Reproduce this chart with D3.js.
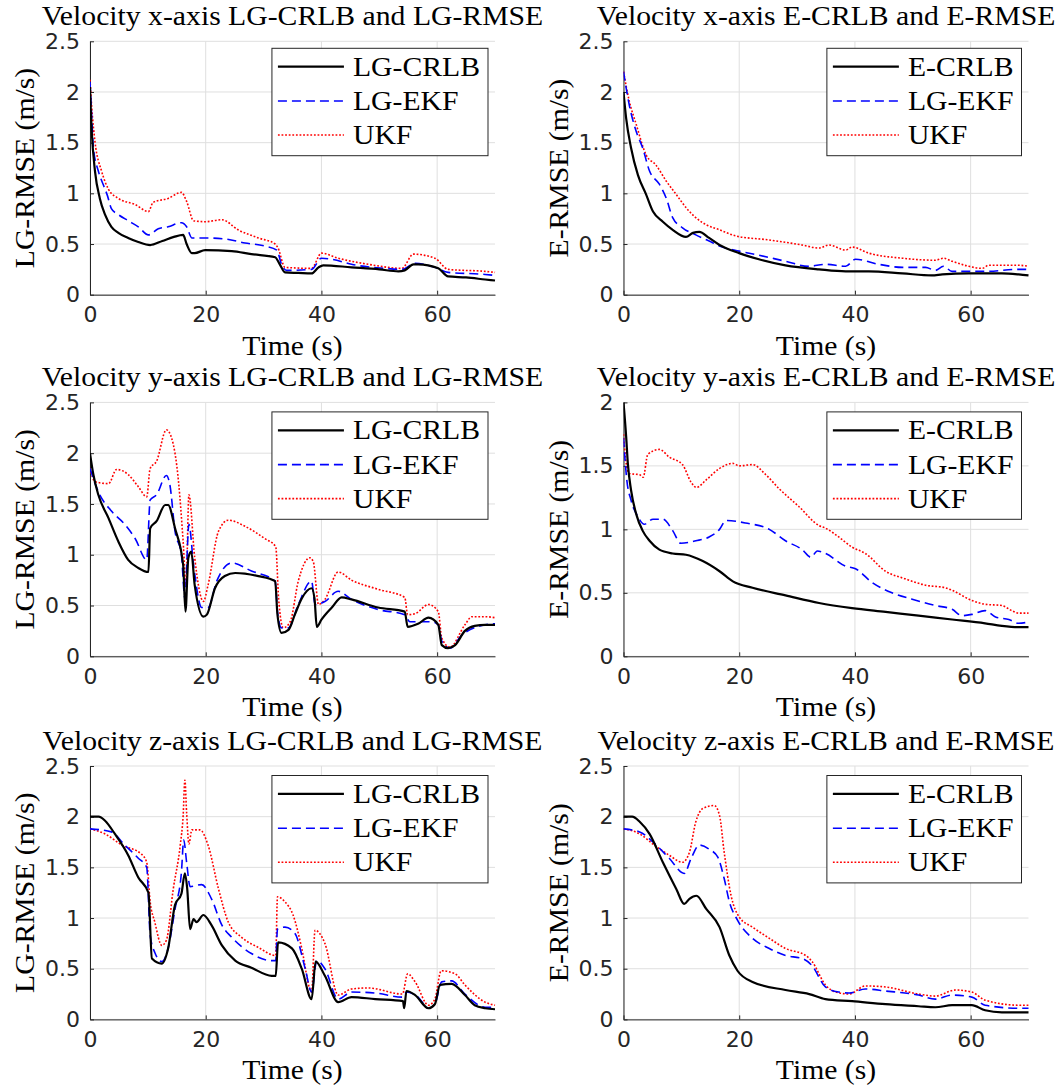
<!DOCTYPE html>
<html><head><meta charset="utf-8">
<script src="https://cdn.jsdelivr.net/npm/d3@7"></script>
<style>body{margin:0;background:#fff}svg{display:block}</style>
</head><body>
<svg id="chart" width="1064" height="1091"></svg>
<script>
// ---------- data ----------
const xTicks = [0, 20, 40, 60];
const yTicksA = [0, 0.5, 1, 1.5, 2, 2.5];
const yTicksB = [0, 0.5, 1, 1.5, 2];
const titles = [
  "Velocity x-axis LG-CRLB and LG-RMSE", "Velocity x-axis E-CRLB and E-RMSE",
  "Velocity y-axis LG-CRLB and LG-RMSE", "Velocity y-axis E-CRLB and E-RMSE",
  "Velocity z-axis LG-CRLB and LG-RMSE", "Velocity z-axis E-CRLB and E-RMSE"];
const yLabels = ["LG-RMSE (m/s)", "E-RMSE (m/s)", "LG-RMSE (m/s)", "E-RMSE (m/s)", "LG-RMSE (m/s)", "E-RMSE (m/s)"];
const legendLG = ["LG-CRLB", "LG-EKF", "UKF"];
const legendE = ["E-CRLB", "LG-EKF", "UKF"];
const xLabel = "Time (s)";

// Panel 1: velocity x, LG
const p1Crlb = [[0,2.05],[0.15,1.8],[0.3,1.61],[0.86,1.22],[1.7,0.95],[2.6,0.79],[3.7,0.67],[4.9,0.61],[6.6,0.56],[8.35,0.52],[10.4,0.49],[12.5,0.53],[14.5,0.57],[16.1,0.59],[16.7,0.50],[17.6,0.41],[18.1,0.41],[19.9,0.44],[24.5,0.43],[27.9,0.40],[32,0.37],[32.8,0.30],[33.7,0.22],[36,0.215],[38.3,0.21],[39.5,0.27],[40.3,0.29],[45.2,0.27],[50,0.25],[53.3,0.23],[54.4,0.24],[55.9,0.30],[56.7,0.30],[60.2,0.26],[61.9,0.18],[65,0.17],[68.3,0.15],[70,0.14]];
const p1Ekf = [[0,2.1],[0.3,1.75],[0.58,1.45],[1.44,1.22],[2.4,1.07],[3.0,0.98],[3.7,0.85],[4.9,0.79],[6.6,0.73],[8.35,0.67],[10.1,0.59],[11.8,0.65],[13.5,0.67],[15.8,0.71],[16.7,0.67],[17.6,0.56],[19.9,0.56],[23.3,0.55],[26.8,0.51],[30.2,0.48],[32.3,0.44],[33.1,0.30],[34,0.24],[38.3,0.25],[40,0.36],[41.8,0.35],[45.2,0.30],[51,0.26],[53.9,0.25],[56.2,0.31],[59.6,0.27],[61.9,0.22],[68.3,0.20],[70,0.19]];
const p1Ukf = [[0,2.12],[0.3,1.85],[0.86,1.51],[2.0,1.22],[3.2,1.04],[4.9,0.95],[7.8,0.89],[10.1,0.82],[10.9,0.91],[13.5,0.95],[15.8,1.01],[16.7,0.92],[17.9,0.73],[19.9,0.72],[22.8,0.74],[25.6,0.64],[29.1,0.56],[32,0.50],[32.5,0.46],[33.7,0.27],[38.3,0.26],[40,0.41],[42.9,0.36],[48.1,0.30],[53.9,0.26],[55.9,0.40],[59.6,0.36],[61.9,0.25],[68.3,0.23],[70,0.22]];

// Panel 2: velocity x, E
const p2Crlb = [[0,2.0],[0.46,1.74],[1.3,1.45],[2.5,1.18],[3.9,0.99],[5.1,0.82],[6.8,0.72],[8.5,0.64],[10.8,0.57],[12,0.61],[13.1,0.62],[14.8,0.56],[16.6,0.49],[20,0.41],[23.4,0.35],[28,0.29],[33.8,0.25],[38.4,0.23],[42.4,0.23],[48.2,0.21],[53.3,0.19],[55.1,0.20],[59.7,0.21],[65.4,0.21],[68.3,0.20],[70,0.19]];
const p2Ekf = [[0,2.2],[1.0,1.87],[2.2,1.61],[3.3,1.45],[4.5,1.22],[6.2,1.09],[7.4,0.95],[8.5,0.76],[10.2,0.66],[12.5,0.59],[14.8,0.53],[16.6,0.48],[20,0.43],[23.4,0.39],[28,0.33],[32,0.28],[34.9,0.30],[38.4,0.28],[40.1,0.35],[44.1,0.30],[48.2,0.27],[52.2,0.27],[53.9,0.24],[55.3,0.28],[56.8,0.23],[62.5,0.23],[68.3,0.25],[70,0.25]];
const p2Ukf = [[0,2.2],[1.0,1.91],[2.2,1.68],[3.9,1.38],[5.6,1.28],[7.4,1.12],[9.1,0.99],[10.8,0.86],[12.5,0.76],[14.3,0.69],[16.6,0.64],[19.4,0.58],[25.2,0.54],[30.9,0.49],[33.8,0.46],[35.5,0.49],[38.4,0.44],[39.5,0.47],[42.4,0.41],[48.2,0.36],[53.9,0.34],[55.3,0.36],[56.8,0.33],[59.7,0.28],[62,0.26],[63.1,0.29],[68.3,0.29],[70,0.28]];

// Panel 3: velocity y, LG
const p3Crlb = [[0,2.0],[0.58,1.79],[1.44,1.59],[3.2,1.36],[4.9,1.13],[6.6,0.95],[8.35,0.87],[10.1,0.83],[10.4,1.26],[11.5,1.33],[13,1.49],[13.5,1.49],[14.7,1.26],[16.1,0.90],[16.5,0.44],[17,0.97],[17.5,1.03],[18.1,0.70],[19.6,0.39],[20.2,0.41],[21.6,0.67],[23.3,0.79],[25.1,0.82],[29.1,0.79],[32,0.74],[32.4,0.41],[33.1,0.23],[34.3,0.26],[35.4,0.41],[36.6,0.57],[38.3,0.67],[38.8,0.57],[39.2,0.29],[40,0.36],[41.8,0.48],[43.5,0.58],[45.2,0.56],[49.8,0.48],[54.4,0.44],[54.9,0.29],[56.7,0.32],[58.5,0.38],[60.2,0.31],[60.8,0.11],[61.9,0.08],[63.1,0.11],[64.8,0.25],[66.5,0.30],[68.3,0.31],[70,0.31]];
const p3Ekf = [[0,1.85],[1.44,1.62],[3.7,1.43],[6,1.30],[7.8,1.16],[9.8,0.95],[10.4,1.54],[11.5,1.59],[13.2,1.78],[13.8,1.69],[14.7,1.23],[15.8,1.0],[16.4,0.57],[17.1,1.30],[17.9,0.90],[19.3,0.48],[20.4,0.48],[21.9,0.74],[24.5,0.92],[27.9,0.84],[32,0.74],[32.4,0.44],[33.1,0.28],[34.3,0.28],[36,0.51],[38.3,0.74],[38.9,0.51],[40.6,0.54],[42.9,0.64],[45.2,0.56],[49.8,0.46],[54.4,0.41],[55.3,0.34],[59,0.34],[60.2,0.31],[60.8,0.15],[62.2,0.08],[64.3,0.21],[68.3,0.31],[70,0.32]];
const p3Ukf = [[0,1.85],[0.86,1.72],[3.2,1.70],[4.6,1.84],[6.6,1.79],[8.35,1.67],[9.8,1.57],[10.4,1.85],[11.5,1.92],[13.2,2.23],[14.1,2.15],[15.3,1.72],[16.1,1.13],[16.6,0.70],[17.1,1.59],[18.1,0.97],[19.6,0.54],[20.4,0.70],[22.2,1.23],[23.9,1.34],[26.8,1.28],[30.2,1.16],[32.1,1.08],[32.6,0.57],[33.4,0.28],[34.6,0.34],[36,0.74],[38,0.97],[38.6,0.93],[39.5,0.51],[40.6,0.56],[42.9,0.83],[45.2,0.75],[49.8,0.66],[54.4,0.58],[54.9,0.41],[56.2,0.42],[58.5,0.51],[60.2,0.44],[60.8,0.18],[62.2,0.09],[64.8,0.31],[66,0.39],[68.3,0.39],[70,0.38]];

// Panel 4: velocity y, E
const p4Crlb = [[0,2.0],[0.46,1.73],[0.75,1.52],[1.3,1.31],[2.2,1.12],[3.3,0.99],[4.5,0.91],[6.2,0.84],[8.5,0.81],[10.8,0.80],[13.7,0.75],[16.6,0.67],[18.9,0.59],[22.3,0.54],[28,0.48],[33.8,0.42],[39.5,0.38],[45.3,0.35],[51,0.32],[56.8,0.29],[62.5,0.26],[65.4,0.24],[68.3,0.23],[70,0.23]];
const p4Ekf = [[0,1.72],[0.57,1.39],[1.3,1.23],[2.5,1.10],[3.6,1.04],[5.1,1.08],[6.8,1.08],[8.5,0.99],[9.9,0.89],[12.5,0.91],[14.8,0.94],[16.6,1.0],[17.7,1.07],[21.1,1.05],[25.2,1.0],[28,0.91],[30.9,0.84],[32.4,0.78],[33.5,0.83],[34.9,0.81],[38.4,0.71],[40.1,0.69],[43,0.58],[46.4,0.50],[49.9,0.45],[53.9,0.40],[56.8,0.37],[58.5,0.32],[60.2,0.33],[62.5,0.36],[64.3,0.31],[66.6,0.29],[68.3,0.26],[70,0.27]];
const p4Ukf = [[0,1.75],[0.46,1.52],[1.0,1.44],[2.8,1.43],[3.4,1.41],[4.2,1.59],[6.2,1.63],[7.9,1.57],[10.2,1.51],[11.7,1.37],[12.6,1.33],[14.3,1.39],[16.6,1.48],[18.9,1.52],[20,1.50],[22.3,1.51],[24.6,1.43],[26.9,1.32],[30.3,1.18],[33.8,1.03],[34.9,1.01],[37.2,0.94],[39.5,0.86],[41.8,0.81],[45.3,0.67],[48.7,0.61],[52.2,0.56],[55.6,0.54],[56.8,0.52],[60.2,0.44],[62.5,0.41],[65.4,0.40],[67.1,0.36],[68.3,0.34],[70,0.34]];

// Panel 5: velocity z, LG
const p5Crlb = [[0,2.0],[1.5,2.0],[2.6,1.96],[4.3,1.83],[6.6,1.62],[8.35,1.40],[10.1,1.25],[10.7,0.60],[12.4,0.55],[13.5,0.70],[14.7,1.13],[15.8,1.24],[16.4,1.44],[16.8,1.29],[17.3,0.89],[17.9,0.99],[18.4,0.96],[19.6,1.03],[21,0.93],[22.8,0.73],[25.1,0.58],[27.9,0.51],[31.4,0.43],[32.1,0.43],[32.5,0.76],[34.9,0.70],[36.6,0.50],[38.3,0.20],[39,0.57],[40.6,0.43],[42.9,0.17],[45.2,0.22],[49.3,0.20],[54.1,0.18],[54.3,0.11],[54.7,0.28],[56.2,0.24],[58.5,0.11],[59.6,0.15],[60.5,0.34],[62.5,0.35],[64.8,0.24],[66.5,0.14],[68.3,0.11],[70,0.10]];
const p5Ekf = [[0,1.88],[3.7,1.85],[6,1.72],[8.35,1.59],[9.8,1.50],[10.4,0.83],[11.2,0.66],[12.4,0.57],[13.5,0.70],[14.7,1.09],[15.8,1.45],[16.2,1.77],[16.7,1.55],[17.3,1.31],[19.3,1.33],[21,1.19],[22.8,0.93],[24.5,0.81],[27.9,0.65],[31.4,0.58],[32.1,0.58],[32.4,0.89],[33.7,0.91],[35.4,0.85],[37.2,0.50],[38.3,0.27],[39.2,0.58],[40.6,0.50],[42.9,0.20],[45.2,0.27],[49.3,0.26],[54,0.22],[54.7,0.27],[56.7,0.22],[58.5,0.11],[59.6,0.15],[60.8,0.37],[62.5,0.38],[64.8,0.25],[68.3,0.12],[70,0.12]];
const p5Ukf = [[0,1.88],[2.6,1.83],[5.5,1.72],[8.9,1.63],[9.8,1.55],[10.4,1.16],[11.2,0.96],[12.4,0.73],[13.2,0.78],[14.4,1.29],[15.6,1.72],[16.1,2.01],[16.4,2.36],[16.7,2.04],[17.1,1.73],[17.6,1.87],[19,1.87],[20.4,1.72],[22.2,1.29],[23.9,0.96],[26.2,0.81],[29.1,0.71],[32.1,0.63],[32.4,1.21],[33.7,1.16],[35.1,1.03],[36.6,0.70],[38,0.30],[38.3,0.27],[38.9,0.88],[40.6,0.75],[42.9,0.24],[45.2,0.30],[48.1,0.31],[54,0.25],[54.9,0.45],[56.2,0.37],[58.5,0.14],[59.6,0.20],[60.7,0.48],[63.1,0.45],[64.8,0.34],[68.3,0.17],[70,0.14]];

// Panel 6: velocity z, E
const p6Crlb = [[0,2.0],[1.5,2.0],[2.8,1.95],[4.5,1.83],[6.8,1.55],[9.1,1.29],[10.5,1.14],[11.4,1.19],[12.6,1.22],[14.3,1.09],[16.6,0.91],[18.3,0.63],[19.7,0.48],[22.3,0.37],[28,0.29],[32.1,0.25],[34.9,0.20],[39.5,0.18],[45.3,0.15],[51,0.13],[53.9,0.12],[56.8,0.14],[60.2,0.14],[62.5,0.09],[65.4,0.07],[70,0.07]];
const p6Ekf = [[0,1.88],[2.8,1.85],[5.1,1.75],[7.9,1.59],[10.5,1.44],[11.7,1.59],[13.1,1.72],[14.8,1.68],[16.3,1.60],[17.4,1.39],[18.3,1.16],[19.7,0.98],[22.3,0.80],[25.2,0.70],[28,0.63],[30.9,0.60],[32.6,0.53],[34.9,0.32],[37.2,0.27],[39,0.26],[41.8,0.30],[45.3,0.28],[51,0.24],[53.9,0.20],[56.8,0.24],[60.2,0.22],[62.5,0.14],[68.3,0.11],[70,0.11]];
const p6Ukf = [[0,1.88],[2.8,1.83],[5.1,1.73],[7.9,1.62],[10.2,1.55],[11.4,1.65],[12.5,1.95],[13.7,2.08],[15.7,2.11],[16.6,2.01],[17.4,1.65],[18.6,1.22],[20,1.01],[22.3,0.91],[25.2,0.80],[28,0.70],[31.5,0.63],[32.6,0.57],[34.9,0.34],[36.7,0.27],[39,0.25],[41.8,0.33],[45.3,0.32],[51,0.25],[53.9,0.23],[57.4,0.29],[60.2,0.27],[62.5,0.19],[68.3,0.14],[70,0.14]];

// ---------- layout ----------
const cols = [{left: 90, right: 495}, {left: 623.5, right: 1028.5}];
const rows = [{top: 41.3, bottom: 294.7}, {top: 402.4, bottom: 656.3}, {top: 766, bottom: 1019.4}];
const panels = [
  {r: 0, c: 0, yMax: 2.5, yTicks: yTicksA, leg: legendLG, series: [p1Crlb, p1Ekf, p1Ukf]},
  {r: 0, c: 1, yMax: 2.5, yTicks: yTicksA, leg: legendE,  series: [p2Crlb, p2Ekf, p2Ukf]},
  {r: 1, c: 0, yMax: 2.5, yTicks: yTicksA, leg: legendLG, series: [p3Crlb, p3Ekf, p3Ukf]},
  {r: 1, c: 1, yMax: 2.0, yTicks: yTicksB, leg: legendE,  series: [p4Crlb, p4Ekf, p4Ukf]},
  {r: 2, c: 0, yMax: 2.5, yTicks: yTicksA, leg: legendLG, series: [p5Crlb, p5Ekf, p5Ukf]},
  {r: 2, c: 1, yMax: 2.5, yTicks: yTicksA, leg: legendE,  series: [p6Crlb, p6Ekf, p6Ukf]}];
const styles = [
  {color: "#000000", width: 2.2, dash: null},
  {color: "#0000ff", width: 1.6, dash: "9,5"},
  {color: "#ff0000", width: 1.6, dash: "1.8,1.8"}];
const SERIF = "'Liberation Serif','Times New Roman',serif";
const SANS = "'DejaVu Sans',sans-serif";
const STRETCH = 1.1;
const axisColor = "#262626", gridColor = "#dfdfdf";

const svg = d3.select("#chart");
svg.append("rect").attr("width", 1064).attr("height", 1091).attr("fill", "#fff");

function serifText(g, str, size) {
  const t = g.append("text").text(str)
    .attr("font-family", SERIF).attr("font-size", size).attr("fill", "#000");
  const w = t.node().getComputedTextLength();
  t.attr("textLength", w * STRETCH).attr("lengthAdjust", "spacingAndGlyphs");
  return {t, w: w * STRETCH};
}

panels.forEach((p, i) => {
  const col = cols[p.c], row = rows[p.r];
  const x = d3.scaleLinear().domain([0, 70]).range([col.left, col.right]);
  const y = d3.scaleLinear().domain([0, p.yMax]).range([row.bottom, row.top]);
  const g = svg.append("g");

  // grid
  g.append("g").selectAll("line").data(xTicks).join("line")
    .attr("x1", d => x(d)).attr("x2", d => x(d)).attr("y1", row.top).attr("y2", row.bottom)
    .attr("stroke", gridColor).attr("stroke-width", 1);
  g.append("g").selectAll("line").data(p.yTicks).join("line")
    .attr("x1", col.left).attr("x2", col.right).attr("y1", d => y(d)).attr("y2", d => y(d))
    .attr("stroke", gridColor).attr("stroke-width", 1);

  // axes (ticks inward)
  const xa = g.append("g").attr("transform", `translate(0,${row.bottom})`)
    .call(d3.axisBottom(x).tickValues(xTicks).tickSizeInner(-4).tickSizeOuter(0).tickPadding(12).tickFormat(d3.format("d")));
  const ya = g.append("g").attr("transform", `translate(${col.left},0)`)
    .call(d3.axisLeft(y).tickValues(p.yTicks).tickSizeInner(-4).tickSizeOuter(0).tickPadding(10).tickFormat(d => String(d)));
  [xa, ya].forEach(a => {
    a.select(".domain").attr("stroke", axisColor);
    a.selectAll(".tick line").attr("stroke", axisColor);
    a.selectAll(".tick text").attr("fill", axisColor).attr("font-family", SANS).attr("font-size", 22);
  });
  xa.selectAll(".tick text").attr("dy", "0.71em");

  // series
  const clipId = "clip" + i;
  g.append("clipPath").attr("id", clipId).append("rect")
    .attr("x", col.left).attr("y", row.top - 2).attr("width", col.right - col.left + 2).attr("height", row.bottom - row.top + 2);
  const line = d3.line().x(d => x(d[0])).y(d => y(d[1])).curve(d3.curveMonotoneX);
  const lg = g.append("g").attr("clip-path", `url(#${clipId})`);
  [2, 1, 0].forEach(k => {
    const s = styles[k];
    lg.append("path").datum(p.series[k]).attr("d", line)
      .attr("fill", "none").attr("stroke", s.color).attr("stroke-width", s.width)
      .attr("stroke-dasharray", s.dash).attr("stroke-linejoin", "round");
  });

  // title
  const tt = serifText(g, titles[i], 27);
  tt.t.attr("x", (col.left + col.right) / 2).attr("y", row.top - 16).attr("text-anchor", "middle");
  // x label
  const xl = serifText(g, xLabel, 27);
  xl.t.attr("x", (col.left + col.right) / 2).attr("y", row.bottom + 60).attr("text-anchor", "middle");
  // y label
  const yl = serifText(g, yLabels[i], 27);
  yl.t.attr("text-anchor", "middle")
    .attr("transform", `translate(${col.left - 56},${(row.top + row.bottom) / 2}) rotate(-90)`);

  // legend
  const leg = g.append("g");
  const box = leg.append("rect");
  let maxW = 0;
  const rowsY = [18.4, 52.7, 86.7];
  p.leg.forEach((lab, k) => {
    const s = styles[k];
    leg.append("line").attr("x1", 6).attr("x2", 72).attr("y1", rowsY[k]).attr("y2", rowsY[k])
      .attr("stroke", s.color).attr("stroke-width", s.width).attr("stroke-dasharray", s.dash);
    const lt = serifText(leg, lab, 27);
    lt.t.attr("x", 81).attr("y", rowsY[k] + 9);
    maxW = Math.max(maxW, lt.w);
  });
  const bw = 81 + maxW + 8, bh = 107.4;
  box.attr("width", bw).attr("height", bh).attr("fill", "#fff").attr("stroke", axisColor).attr("stroke-width", 1);
  const inset = p.r === 0 ? 7 : 9.5;
  leg.attr("transform", `translate(${col.right - 7 - bw},${row.top + inset})`);
});
</script>
</body></html>
